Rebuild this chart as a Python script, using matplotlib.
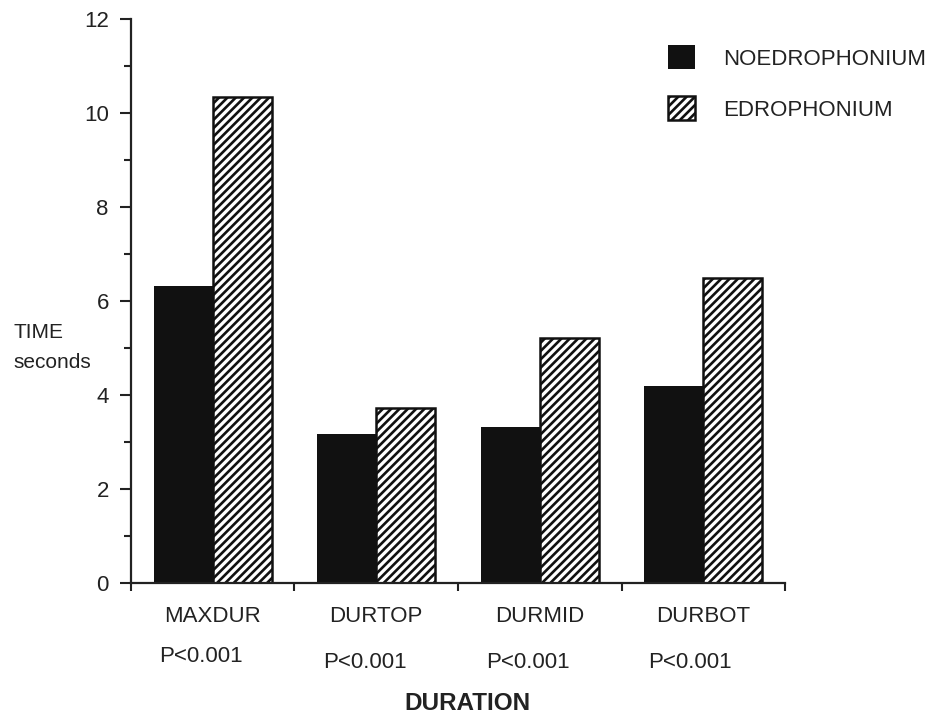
import matplotlib
matplotlib.use("Agg")
import matplotlib.pyplot as plt
import matplotlib.transforms as mtransforms
import numpy as np

# mean durations (seconds) per measure
measures = ["MAXDUR", "DURTOP", "DURMID", "DURBOT"]
no_edrophonium = [6.32, 3.16, 3.31, 4.19]
edrophonium = [10.34, 3.72, 5.20, 6.48]
p_values = ["P<0.001", "P<0.001", "P<0.001", "P<0.001"]
series_names = ["NOEDROPHONIUM", "EDROPHONIUM"]

plt.rcParams["font.family"] = ["Liberation Sans", "DejaVu Sans"]
plt.rcParams["hatch.linewidth"] = 1.9
plt.rcParams["hatch.color"] = "#111111"

ink = "#222222"
fs = 16
fig = plt.figure(figsize=(9.31, 7.17), dpi=100)
ax = fig.add_axes([0.1407, 0.1873, 0.7025, 0.7867])

x = np.arange(len(measures))
w = 0.36
b1 = ax.bar(x - w / 2, no_edrophonium, w, color="#111111", edgecolor="#111111",
            linewidth=0, label=series_names[0])
b2 = ax.bar(x + w / 2, edrophonium, w, color="white", edgecolor="#111111",
            linewidth=1.8, hatch="////", label=series_names[1])

ax.set_xlim(-0.5, len(measures) - 0.5)
ax.set_ylim(0, 12)

for side in ("top", "right"):
    ax.spines[side].set_visible(False)
for side in ("left", "bottom"):
    ax.spines[side].set_linewidth(1.6)
    ax.spines[side].set_color(ink)

ax.set_yticks(np.arange(0, 13, 2))
ax.set_yticks(np.arange(1, 12, 2), minor=True)
ax.tick_params(axis="y", which="major", length=8, width=1.5, pad=8,
               labelsize=fs, colors=ink)
ax.tick_params(axis="y", which="minor", length=5, width=1.5, colors=ink)

ax.set_xticks(x)
ax.set_xticklabels(measures)
ax.set_xticks(np.arange(-0.5, len(measures)), minor=True)
ax.tick_params(axis="x", which="major", length=0, pad=17, labelsize=fs,
               colors=ink)
ax.tick_params(axis="x", which="minor", length=6, width=1.5, colors=ink)

# significance under each group (x in data units, y in figure units)
below = mtransforms.blended_transform_factory(ax.transData, fig.transFigure)
p_x = [-0.07, -0.07, -0.07, -0.08]
p_y = [657, 663, 663, 663]
for i, (lab, dx, py) in enumerate(zip(p_values, p_x, p_y)):
    ax.text(i + dx, 1 - py / 717, lab, ha="center", va="center", fontsize=fs,
            color=ink, transform=below)

fig.text(467 / 931, 1 - 703 / 717, "DURATION", ha="center", va="center",
         fontsize=17.5, fontweight="bold", color=ink)
fig.text(13 / 931, 1 - 332 / 717, "TIME", ha="left", va="center",
         fontsize=15, color=ink)
fig.text(13 / 931, 1 - 362 / 717, "seconds", ha="left", va="center",
         fontsize=15, color=ink)

ax.legend(handles=[b1, b2], loc="upper left", bbox_to_anchor=(668 / 931, 1 - 45 / 717),
          bbox_transform=fig.transFigure, frameon=False, fontsize=fs,
          handlelength=1.2, handleheight=1.3, handletextpad=1.3,
          labelspacing=1.2, borderpad=0, borderaxespad=0, labelcolor=ink)

fig.savefig("out.png", dpi=100, facecolor="white")
